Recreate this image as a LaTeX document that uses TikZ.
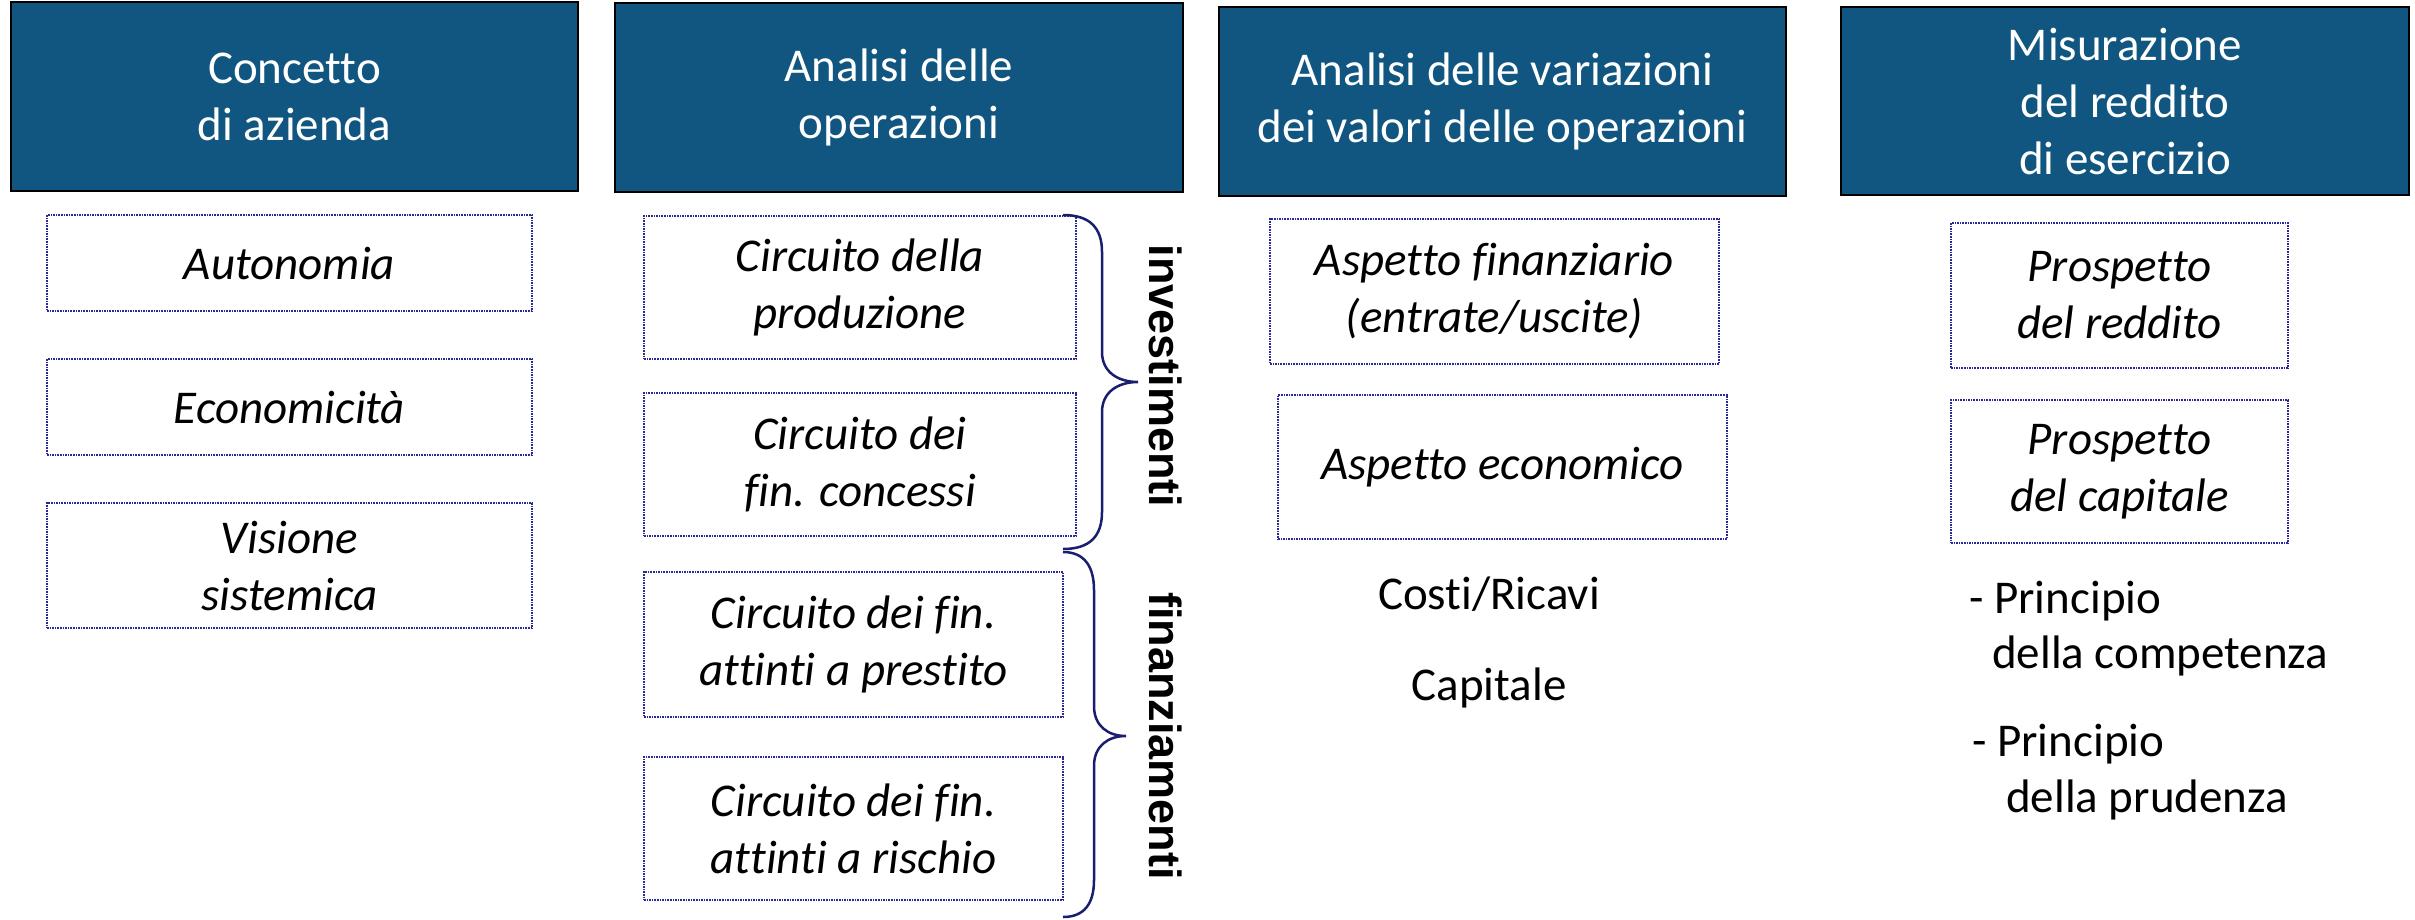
\documentclass[tikz,border=0pt]{standalone}
\usepackage{fontspec}
\setmainfont{Carlito}[Ligatures=NoCommon]
\newfontfamily\labfont{Liberation Sans}
\definecolor{headblue}{RGB}{17,86,128}
\definecolor{dotblue}{RGB}{40,40,150}
\definecolor{bracenavy}{RGB}{25,30,110}
\tikzset{
  headbox/.style={draw=black, line width=2.5pt, fill=headblue, text=white,
    font=\fontsize{47}{57}\selectfont, align=center, inner sep=0pt, rectangle},
  itembox/.style={draw=dotblue, line width=1.6pt, densely dotted, text=black,
    font=\fontsize{47}{57}\selectfont\itshape, align=center, inner sep=0pt, rectangle},
  plaintext/.style={text=black, font=\fontsize{47}{57}\selectfont, inner sep=0pt},
  bracelabel/.style={text=black, font=\labfont\fontsize{45}{50}\selectfont\bfseries, inner sep=0pt, rotate=-90},
  bracepath/.style={draw=bracenavy, line width=2.5pt}
}
\begin{document}
\begin{tikzpicture}[x=1pt,y=-1pt]
\useasboundingbox (0,0) rectangle (2415,919);
% headers
\node[headbox, minimum width=567pt, minimum height=189pt] (h1) at (294.5,96.5) {Concetto\\di azienda};
\node[headbox, minimum width=568pt, minimum height=189pt] (h2) at (899,97.5) {Analisi delle\\operazioni};
\node[headbox, minimum width=567pt, minimum height=189pt] (h3) at (1502.5,101.5) {Analisi delle variazioni\\dei valori delle operazioni};
\node[headbox, minimum width=568pt, minimum height=188pt] (h4) at (2125,101) {Misurazione\\del reddito\\di esercizio};
% column 1
\node[itembox, minimum width=485pt, minimum height=96pt] (a1) at (289.5,263) {Autonomia};
\node[itembox, minimum width=485pt, minimum height=96pt] (a2) at (289.5,407) {Economicità};
\node[itembox, minimum width=485pt, minimum height=125pt] (a3) at (289.5,565.5) {Visione\\sistemica};
% column 2
\node[itembox, minimum width=432pt, minimum height=143pt] (b1) at (860,287.5) {Circuito della\\produzione};
\node[itembox, minimum width=432pt, minimum height=143pt] (b2) at (860,464.5) {Circuito dei\\fin. concessi};
\node[itembox, minimum width=419pt, minimum height=145pt] (b3) at (853.5,644.5) {Circuito dei fin.\\attinti a prestito};
\node[itembox, minimum width=419pt, minimum height=143pt] (b4) at (853.5,828.5) {Circuito dei fin.\\attinti a rischio};
% braces
\draw[bracepath] (1063,215) .. controls (1090,215) and (1102,228) .. (1102,252)
  -- (1102,352) .. controls (1102,372) and (1118,382) .. (1138,382)
  .. controls (1118,382) and (1102,392) .. (1102,412)
  -- (1102,512) .. controls (1102,536) and (1090,549) .. (1063,549);
\draw[bracepath] (1063,552) .. controls (1084,552) and (1094,566) .. (1094,590)
  -- (1094,706) .. controls (1094,726) and (1108,736) .. (1126,736)
  .. controls (1108,736) and (1094,746) .. (1094,766)
  -- (1094,880) .. controls (1094,904) and (1084,917) .. (1063,917);
\node[bracelabel] (inv) at (1166,376) {investimenti};
\node[bracelabel] (fin) at (1166,736) {finanziamenti};
% column 3
\node[itembox, minimum width=449pt, minimum height=145pt] (c1) at (1494.5,291.5) {Aspetto finanziario\\(entrate/uscite)};
\node[itembox, minimum width=449pt, minimum height=144pt] (c2) at (1502.5,467) {Aspetto economico};
\node[plaintext] (c3) at (1489,594) {Costi/Ricavi};
\node[plaintext] (c4) at (1489,688) {Capitale};
% column 4
\node[itembox, minimum width=337pt, minimum height=145pt] (d1) at (2119.5,295.5) {Prospetto\\del reddito};
\node[itembox, minimum width=337pt, minimum height=143pt] (d2) at (2119.5,471.5) {Prospetto\\del capitale};
\node[plaintext, anchor=base west] (d3) at (1969,613) {- Principio};
\node[plaintext, anchor=base west] (d4) at (1992,668) {della competenza};
\node[plaintext, anchor=base west] (d5) at (1972,756) {- Principio};
\node[plaintext, anchor=base west] (d6) at (2006,812) {della prudenza};
\end{tikzpicture}
\end{document}
